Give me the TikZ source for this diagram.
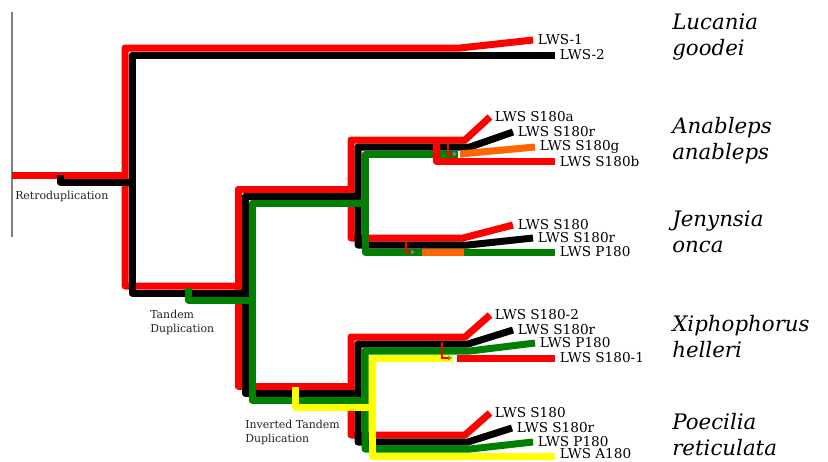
\documentclass[tikz,border=0pt]{standalone}
\usepackage{fontspec}
\setmainfont{DejaVu Serif}
\usetikzlibrary{arrows.meta,positioning}
\definecolor{lred}{RGB}{255,0,0}
\definecolor{lgreen}{RGB}{0,128,0}
\definecolor{lorange}{RGB}{255,102,0}
\definecolor{lyellow}{RGB}{255,255,0}
\definecolor{evgrey}{RGB}{35,35,35}
\tikzset{
  lineage/.style={line width=5.25pt, line join=round},
  conv/.style={draw=lred, line width=0.9pt, -{Triangle[open,fill=white,color=gray,length=3pt,width=3.5pt]}},
  gene/.style={font=\fontsize{10.2}{11}\selectfont, inner sep=0pt},
  species/.style={font=\fontsize{16}{19.5}\selectfont\itshape, align=left, anchor=west, inner sep=0pt},
  event/.style={font=\fontsize{8.2}{10.5}\selectfont, text=evgrey, align=left, anchor=west, inner sep=0pt}
}

\begin{document}
\begin{tikzpicture}[x=0.75pt, y=-0.75pt]
\useasboundingbox (0,0) rectangle (828,461);
% tips of the gene lineages
\coordinate (tL1) at (533,40);  \coordinate (tL2) at (555,55);
\coordinate (tA1) at (490,117); \coordinate (tA2) at (513,132);
\coordinate (tA3) at (535,147); \coordinate (tA4) at (555,161);
\coordinate (tJ1) at (513,225); \coordinate (tJ2) at (533,238);
\coordinate (tJ3) at (555,252);
\coordinate (tX1) at (490,315); \coordinate (tX2) at (513,330);
\coordinate (tX3) at (535,343); \coordinate (tX4) at (555,358);
\coordinate (tP1) at (490,413); \coordinate (tP2) at (512,428);
\coordinate (tP3) at (533,442); \coordinate (tP4) at (555,456);

\draw[gray, line width=0.8pt] (12,12) -- (12,237);

% red
\draw[lineage, lred] (12,175) -- (125,175);
\draw[lineage, lred] (tL1) -- (460,48) -- (125,48) -- (125,286) -- (238,286);
\draw[lineage, lred] (tA1) -- (465,140) -- (351,140) -- (351,238) -- (463,238) -- (tJ1);
\draw[lineage, lred] (351,189) -- (238,189) -- (238,386) -- (351,386);
\draw[lineage, lred] (tX1) -- (465,337) -- (351,337) -- (351,435) -- (465,435) -- (tP1);
% black
\draw[lineage] (60.5,175) -- (60.5,182) -- (132,182);
\draw[lineage] (tL2) -- (132,55) -- (132,293) -- (245,293);
\draw[lineage] (tA2) -- (470,147) -- (358,147) -- (358,245) -- (468,245) -- (tJ2);
\draw[lineage] (358,196) -- (245,196) -- (245,393) -- (358,393);
\draw[lineage] (tX2) -- (468,344) -- (358,344) -- (358,442) -- (468,442) -- (tP2);
% green
\draw[lineage, lgreen] (188.5,288) -- (188.5,300) -- (252,300);
\draw[lineage, lgreen] (458,154) -- (365,154) -- (365,252) -- (tJ3);
\draw[lineage, lgreen] (365,203) -- (252,203) -- (252,400) -- (365,400);
\draw[lineage, lgreen] (tX3) -- (470,351) -- (365,351) -- (365,449) -- (470,449) -- (tP3);
% yellow
\draw[lineage, lyellow] (295,387) -- (295,407) -- (372,407);
\draw[lineage, lyellow] (453,358) -- (372,358) -- (372,456) -- (tP4);
% orange
\draw[lineage, lorange] (460,154) -- (tA3);
\draw[lineage, lorange] (422,252) -- (464,252);
% red copies after conversion
\draw[lineage, lred] (436,140) -- (436,161) -- (tA4);
\draw[lineage, lred] (457,358) -- (tX4);
% gene conversion
\draw[conv] (448,143) -- (448,154) -- (457,154);
\draw[conv] (406,242) -- (406,252) -- (415,252);
\draw[conv] (442,342) -- (442,358) -- (452,358);

% gene labels
\node[gene, right=3.5pt of tL1] (gL1) {LWS-1};
\node[gene, right=3.5pt of tL2] (gL2) {LWS-2};
\node[gene, right=3.5pt of tA1] (gA1) {LWS S180a};
\node[gene, right=3.5pt of tA2] (gA2) {LWS S180r};
\node[gene, right=3.5pt of tA3] (gA3) {LWS S180g};
\node[gene, right=3.5pt of tA4] (gA4) {LWS S180b};
\node[gene, right=3.5pt of tJ1] (gJ1) {LWS S180};
\node[gene, right=3.5pt of tJ2] (gJ2) {LWS S180r};
\node[gene, right=3.5pt of tJ3] (gJ3) {LWS P180};
\node[gene, right=3.5pt of tX1] (gX1) {LWS S180-2};
\node[gene, right=3.5pt of tX2] (gX2) {LWS S180r};
\node[gene, right=3.5pt of tX3] (gX3) {LWS P180};
\node[gene, right=3.5pt of tX4] (gX4) {LWS S180-1};
\node[gene, right=3.5pt of tP1] (gP1) {LWS S180};
\node[gene, right=3.5pt of tP2] (gP2) {LWS S180r};
\node[gene, right=3.5pt of tP3] (gP3) {LWS P180};
\node[gene, right=3.5pt of tP4, yshift=1.8pt] (gP4) {LWS A180};

% events
\node[event] (retro)  at (15,196)  {Retroduplication};
\node[event] (tandem) at (150,322) {Tandem\\Duplication};
\node[event] (invtd)  at (245,432) {Inverted Tandem\\Duplication};

% species
\node[species] (luc) at (672,37.5) {Lucania\\goodei};
\node[species] (ana) at (672,141)  {Anableps\\anableps};
\node[species] (jen) at (672,232)  {Jenynsia\\onca};
\node[species] (xip) at (672,337)  {Xiphophorus\\helleri};
\node[species] (poe) at (672,435)  {Poecilia\\reticulata};
\end{tikzpicture}
\end{document}
